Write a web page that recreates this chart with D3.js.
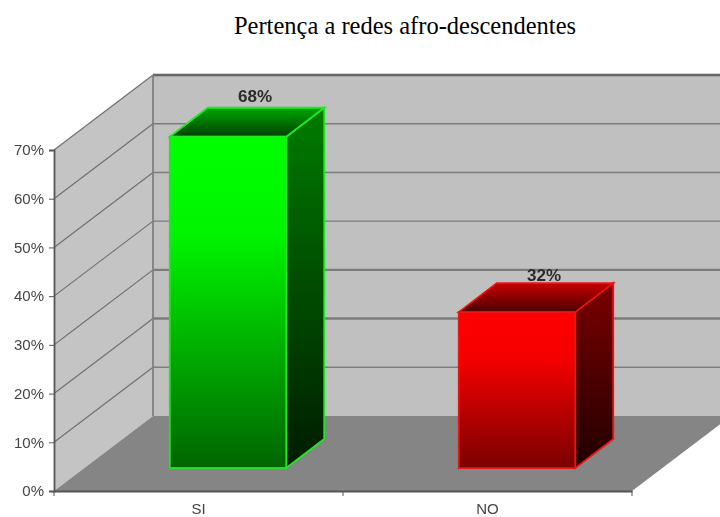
<!DOCTYPE html>
<html>
<head>
<meta charset="utf-8">
<script src="https://cdn.jsdelivr.net/npm/d3@7/dist/d3.min.js"></script>
<style>
html, body { margin: 0; background: #fff; }
svg { display: block; }
</style>
</head>
<body>
<div id="graph"></div>
<script>
var categories = ["SI", "NO"];
var percents = [68, 32];
var yTicks = [0, 10, 20, 30, 40, 50, 60, 70];
var heavyGrid = [30, 20];
var title = "Pertença a redes afro-descendentes";

var width = 720, height = 517;
var wallDx = 99, wallDy = -75;   // depth of the whole box
var barDx = 38, barDy = -29;     // depth of one bar
var inDx = 29.5, inDy = -23;     // how far bars sit behind the front edge

var colors = {
	SI: { front: ["#00ff00", "#00f400", "#006400"], side: ["#007c00", "#001c00"], top: ["#00a800", "#004000"], edge: "#22e622" },
	NO: { front: ["#ff0000", "#f40000", "#7a0000"], side: ["#7c0000", "#200000"], top: ["#c80000", "#4c0000"], edge: "#e81212" }
};
var labelLift = { SI: 6, NO: 2 };

var svg = d3.select("#graph").append("svg")
	.attr("width", width)
	.attr("height", height);

var defs = svg.append("defs");
defs.append("filter").attr("id", "soft")
	.attr("x", "-5%").attr("y", "-5%").attr("width", "110%").attr("height", "110%")
	.append("feGaussianBlur").attr("stdDeviation", 0.6);

function gradient(id, stops) {
	defs.append("linearGradient").attr("id", id)
		.attr("x1", 0).attr("y1", 0).attr("x2", 0).attr("y2", 1)
		.selectAll("stop")
		.data(stops)
		.enter().append("stop")
			.attr("offset", function (d) { return d[0]; })
			.attr("stop-color", function (d) { return d[1]; });
}

categories.forEach(function (c) {
	var k = colors[c];
	gradient("front" + c, [[0, k.front[0]], [0.3, k.front[1]], [1, k.front[2]]]);
	gradient("side" + c, [[0, k.side[0]], [1, k.side[1]]]);
	gradient("top" + c, [[0, k.top[0]], [1, k.top[1]]]);
});

var x = d3.scaleBand().domain(categories).range([54, 632]).paddingInner(0.597).paddingOuter(0.2985);
var y = d3.scaleLinear().domain([0, 70]).range([491, 150]);

var chart = svg.append("g").attr("filter", "url(#soft)");

function pts(a) { return a.map(function (p) { return p.join(","); }).join(" "); }

var x0 = x.range()[0], x1 = x.range()[1], y0 = y(0), yTop = y(70);

// walls and floor
chart.append("polygon")
	.attr("points", pts([[x0 + wallDx, yTop + wallDy], [x1 + wallDx, yTop + wallDy], [x1 + wallDx, y0 + wallDy], [x0 + wallDx, y0 + wallDy]]))
	.attr("fill", "#c0c0c0");
chart.append("polygon")
	.attr("points", pts([[x0, yTop], [x0 + wallDx, yTop + wallDy], [x0 + wallDx, y0 + wallDy], [x0, y0]]))
	.attr("fill", "#c4c4c4");
chart.append("polygon")
	.attr("points", pts([[x0, y0], [x1, y0], [x1 + wallDx, y0 + wallDy], [x0 + wallDx, y0 + wallDy]]))
	.attr("fill", "#858585");

// grid
var gridVals = yTicks.filter(function (d) { return d > 0; });
chart.selectAll("line.back").data(gridVals).enter().append("line")
	.attr("class", "back")
	.attr("x1", x0 + wallDx).attr("x2", x1 + wallDx)
	.attr("y1", function (d) { return y(d) + wallDy; })
	.attr("y2", function (d) { return y(d) + wallDy; })
	.attr("stroke", function (d) { return d == 70 ? "#666" : "#7c7c7c"; })
	.attr("stroke-width", function (d) { return heavyGrid.indexOf(d) >= 0 || d == 70 ? 2.4 : 1.4; });
chart.selectAll("line.sidegrid").data(gridVals).enter().append("line")
	.attr("class", "sidegrid")
	.attr("x1", x0).attr("x2", x0 + wallDx)
	.attr("y1", function (d) { return y(d); })
	.attr("y2", function (d) { return y(d) + wallDy; })
	.attr("stroke", "#707070")
	.attr("stroke-width", 1.2);
chart.append("line")
	.attr("x1", x0 + wallDx).attr("x2", x0 + wallDx)
	.attr("y1", yTop + wallDy).attr("y2", y0 + wallDy)
	.attr("stroke", "#808080").attr("stroke-width", 1.8);

// bars
var bars = chart.selectAll("g.bar")
	.data(categories)
	.enter().append("g")
		.attr("class", "bar");

function left(c) { return x(c) + inDx; }
function right(c) { return x(c) + x.bandwidth() + inDx; }
function base() { return y0 + inDy; }
function tip(c) { return y(percents[categories.indexOf(c)]) + inDy; }

bars.append("polygon")
	.attr("points", function (c) {
		return pts([[right(c), tip(c)], [right(c) + barDx, tip(c) + barDy], [right(c) + barDx, base() + barDy], [right(c), base()]]);
	})
	.attr("fill", function (c) { return "url(#side" + c + ")"; })
	.attr("stroke", function (c) { return colors[c].edge; })
	.attr("stroke-width", 1.8);
bars.append("polygon")
	.attr("points", function (c) {
		return pts([[left(c), tip(c)], [left(c) + barDx, tip(c) + barDy], [right(c) + barDx, tip(c) + barDy], [right(c), tip(c)]]);
	})
	.attr("fill", function (c) { return "url(#top" + c + ")"; })
	.attr("stroke", function (c) { return colors[c].edge; })
	.attr("stroke-width", 1.8);
bars.append("rect")
	.attr("x", left)
	.attr("y", tip)
	.attr("width", x.bandwidth())
	.attr("height", function (c) { return base() - tip(c); })
	.attr("fill", function (c) { return "url(#front" + c + ")"; })
	.attr("stroke", function (c) { return colors[c].edge; })
	.attr("stroke-width", 1.8);

// value labels
bars.append("text")
	.attr("x", function (c) { return (left(c) + right(c)) / 2 + 27; })
	.attr("y", function (c) { return tip(c) + barDy - labelLift[c]; })
	.attr("text-anchor", "middle")
	.attr("font-family", "Liberation Sans, Arial, sans-serif")
	.attr("font-size", 17)
	.attr("font-weight", "bold")
	.attr("fill", "#2a2a2a")
	.text(function (c) { return percents[categories.indexOf(c)] + "%"; });

// axes
var yAxis = chart.append("g")
	.attr("transform", "translate(" + x0 + ",0)")
	.call(d3.axisLeft(y).tickValues(yTicks).tickSize(5).tickPadding(5).tickFormat(function (d) { return d + "%"; }));
yAxis.selectAll("text")
	.attr("font-family", "Liberation Sans, Arial, sans-serif")
	.attr("font-size", 15)
	.attr("fill", "#444");

var xAxis = chart.append("g")
	.attr("transform", "translate(0," + y0 + ")")
	.call(d3.axisBottom(x).tickSize(0).tickPadding(12));
xAxis.selectAll("text")
	.attr("font-family", "Liberation Sans, Arial, sans-serif")
	.attr("font-size", 15)
	.attr("fill", "#444");
xAxis.selectAll("line.edge")
	.data(d3.range(categories.length + 1))
	.enter().append("line")
		.attr("class", "edge")
		.attr("x1", function (i) { return x0 + i * x.step(); })
		.attr("x2", function (i) { return x0 + i * x.step(); })
		.attr("y1", 0).attr("y2", 5)
		.attr("stroke", "#555");
chart.selectAll(".domain").attr("stroke", "#555").attr("stroke-width", 1.8);
chart.selectAll(".tick line").attr("stroke", "#555");

svg.append("text")
	.attr("x", 405)
	.attr("y", 34)
	.attr("text-anchor", "middle")
	.attr("font-family", "Liberation Serif, Times New Roman, serif")
	.attr("font-size", 24.5)
	.attr("fill", "#000")
	.text(title);
</script>
</body>
</html>
